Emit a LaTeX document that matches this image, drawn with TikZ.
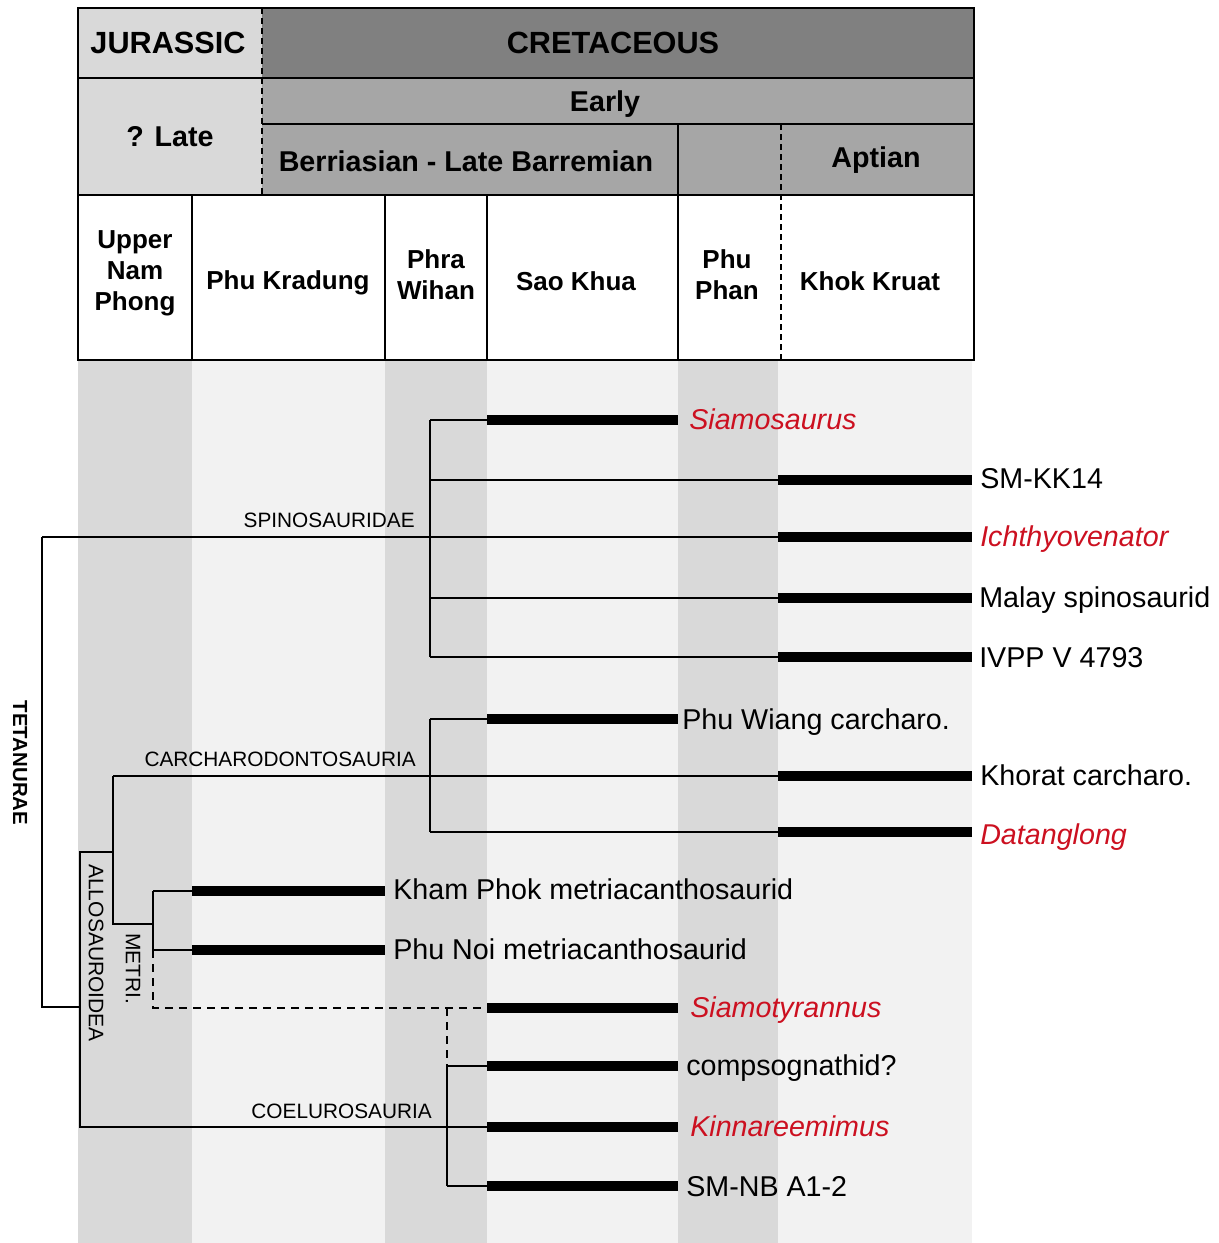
\documentclass[tikz,border=0pt]{standalone}
\usepackage{fontspec}
\setmainfont{Liberation Sans}
\definecolor{tred}{RGB}{204,16,32}
\definecolor{cdark}{RGB}{128,128,128}
\definecolor{cmid}{RGB}{166,166,166}
\definecolor{clight}{RGB}{217,217,217}
\definecolor{cpale}{RGB}{242,242,242}
\begin{document}
\begin{tikzpicture}[x=0.75pt,y=-0.75pt,
  hline/.style={line width=1.8pt},
  hdash/.style={line width=1.5pt, dash pattern=on 4.5pt off 3pt},
  branch/.style={line width=1.5pt},
  dbranch/.style={line width=1.5pt, dash pattern=on 6pt off 4.5pt},
  bar/.style={line width=7.5pt},
  taxon/.style={anchor=west, inner sep=0pt, yshift=-3.75pt, text height=0.72em, text depth=0pt, font=\fontsize{21.5}{24}\selectfont},
  redtaxon/.style={taxon, text=tred, font=\fontsize{21.5}{24}\selectfont\itshape},
  clade/.style={anchor=base east, inner sep=0pt, font=\fontsize{15.6}{18}\selectfont},
  hdrbig/.style={inner sep=0pt, font=\bfseries\fontsize{23}{26}\selectfont},
  hdr/.style={inner sep=0pt, font=\bfseries\fontsize{21.5}{24}\selectfont},
  fm/.style={inner sep=0pt, align=center, font=\bfseries\fontsize{19.5}{23.25}\selectfont}
]
\useasboundingbox (0,0) rectangle (1218,1243);
% column shading
\fill[clight] (78,360) rectangle (192,1243);
\fill[cpale] (192,360) rectangle (385,1243);
\fill[clight] (385,360) rectangle (487,1243);
\fill[cpale] (487,360) rectangle (678,1243);
\fill[clight] (678,360) rectangle (778,1243);
\fill[cpale] (778,360) rectangle (972,1243);
% header fills
\fill[clight] (78,8) rectangle (262,195);
\fill[cdark] (262,8) rectangle (974,78);
\fill[cmid] (262,78) rectangle (974,195);
\fill[white] (78,195) rectangle (974,360);
% header lines
\draw[hline] (78,78) -- (974,78);
\draw[hline] (262,124) -- (974,124);
\draw[hline] (78,195) -- (974,195);
\draw[hline] (678,124) -- (678,360);
\draw[hline] (192,195) -- (192,360);
\draw[hline] (385,195) -- (385,360);
\draw[hline] (487,195) -- (487,360);
\draw[hdash] (262,8) -- (262,195);
\draw[hdash] (781,124) -- (781,360);
\draw[hline] (78,8) rectangle (974,360);
% header texts
\node[hdrbig] (jur) at (168,43) {JURASSIC};
\node[hdrbig] (cre) at (613,43) {CRETACEOUS};
\node[hdr] (early) at (605,104) {Early};
\node[hdr] (late) at (170,137) {? Late};
\node[hdr] (berr) at (466,161) {Berriasian - Late Barremian};
\node[hdr] (apt) at (876,160) {Aptian};
\node[fm] (unp) at (135,273) {Upper\\Nam\\Phong};
\node[fm] (pkr) at (288,283) {Phu Kradung};
\node[fm] (pwi) at (436,275) {Phra\\Wihan};
\node[fm] (skh) at (576,281) {Sao Khua};
\node[fm] (pph) at (727,275) {Phu\\Phan};
\node[fm] (kkr) at (870,281) {Khok Kruat};
% tree coordinates
\coordinate (rootT) at (42,537);
\coordinate (rootB) at (42,1007);
\coordinate (alloR) at (80,1007);
\coordinate (spT) at (430,420);
\coordinate (spB) at (430,657);
% spinosauridae
\node[redtaxon] (siam) at (689,420) {Siamosaurus};
\node[taxon] (smkk) at (980,479) {SM-KK14};
\node[redtaxon] (ichy) at (980,537) {Ichthyovenator};
\node[taxon] (malay) at (979,598) {Malay spinosaurid};
\node[taxon] (ivpp) at (979,658) {IVPP V 4793};
\draw[branch] (spT) -- (spB);
\draw[branch] (spT) -- (487,420);
\draw[bar] (487,420) -- (678,420);
\draw[branch] (430,480) -- (778,480);
\draw[bar] (778,480) -- (972,480);
\draw[branch] (rootT) -- (778,537);
\draw[bar] (778,537) -- (972,537);
\draw[branch] (430,598) -- (778,598);
\draw[bar] (778,598) -- (972,598);
\draw[branch] (spB) -- (778,657);
\draw[bar] (778,657) -- (972,657);
\draw[branch] (rootT) -- (rootB) -- (alloR);
% carcharodontosauria
\coordinate (caT) at (430,719);
\coordinate (caB) at (430,832);
\coordinate (caL) at (113,776);
\coordinate (caLB) at (113,924);
\node[taxon] (pwc) at (682,720) {Phu Wiang carcharo.};
\node[taxon] (khc) at (980,776) {Khorat carcharo.};
\node[redtaxon] (dat) at (980,835) {Datanglong};
\draw[branch] (caT) -- (caB);
\draw[branch] (caT) -- (487,719);
\draw[bar] (487,719) -- (678,719);
\draw[branch] (caL) -- (778,776);
\draw[bar] (778,776) -- (972,776);
\draw[branch] (caB) -- (778,832);
\draw[bar] (778,832) -- (972,832);
% allosauroidea
\coordinate (alT) at (80,852);
\coordinate (alB) at (80,1127);
\draw[branch] (caL) -- (caLB) -- (153,924);
\draw[branch] (113,852) -- (alT) -- (alB) -- (487,1127);
% metriacanthosauridae
\coordinate (meT) at (153,891);
\coordinate (meM) at (153,950);
\coordinate (meB) at (153,1008);
\node[taxon] (kham) at (393,890) {Kham Phok metriacanthosaurid};
\node[taxon] (pnoi) at (393,950) {Phu Noi metriacanthosaurid};
\draw[branch] (meT) -- (meM);
\draw[branch] (meT) -- (192,891);
\draw[bar] (192,891) -- (385,891);
\draw[branch] (meM) -- (192,950);
\draw[bar] (192,950) -- (385,950);
\draw[dbranch] (meM) -- (meB) -- (487,1008);
\node[redtaxon] (styr) at (690,1008) {Siamotyrannus};
\draw[bar] (487,1008) -- (678,1008);
% coelurosauria
\coordinate (coT) at (447,1066);
\coordinate (coB) at (447,1186);
\draw[dbranch] (447,1008) -- (coT);
\draw[branch] (coT) -- (coB);
\node[taxon] (comp) at (686,1066) {compsognathid?};
\node[redtaxon] (kinn) at (690,1127) {Kinnareemimus};
\node[taxon] (smnb) at (686,1187) {SM-NB A1-2};
\draw[branch] (coT) -- (487,1066);
\draw[bar] (487,1066) -- (678,1066);
\draw[bar] (487,1127) -- (678,1127);
\draw[branch] (coB) -- (487,1186);
\draw[bar] (487,1186) -- (678,1186);
% clade labels
\node[clade] (lsp) at (415,527) {SPINOSAURIDAE};
\node[clade] (lca) at (416,766) {CARCHARODONTOSAURIA};
\node[clade] (lco) at (432,1118) {COELUROSAURIA};
\node[inner sep=0pt, rotate=-90, font=\fontsize{15.75}{18}\selectfont] (lal) at (96,953) {ALLOSAUROIDEA};
\node[inner sep=0pt, rotate=-90, font=\fontsize{15.75}{18}\selectfont] (lme) at (133,969) {METRI.};
\node[inner sep=0pt, rotate=-90, font=\bfseries\fontsize{15.3}{18}\selectfont] (ltet) at (20,763) {TETANURAE};
\end{tikzpicture}
\end{document}
